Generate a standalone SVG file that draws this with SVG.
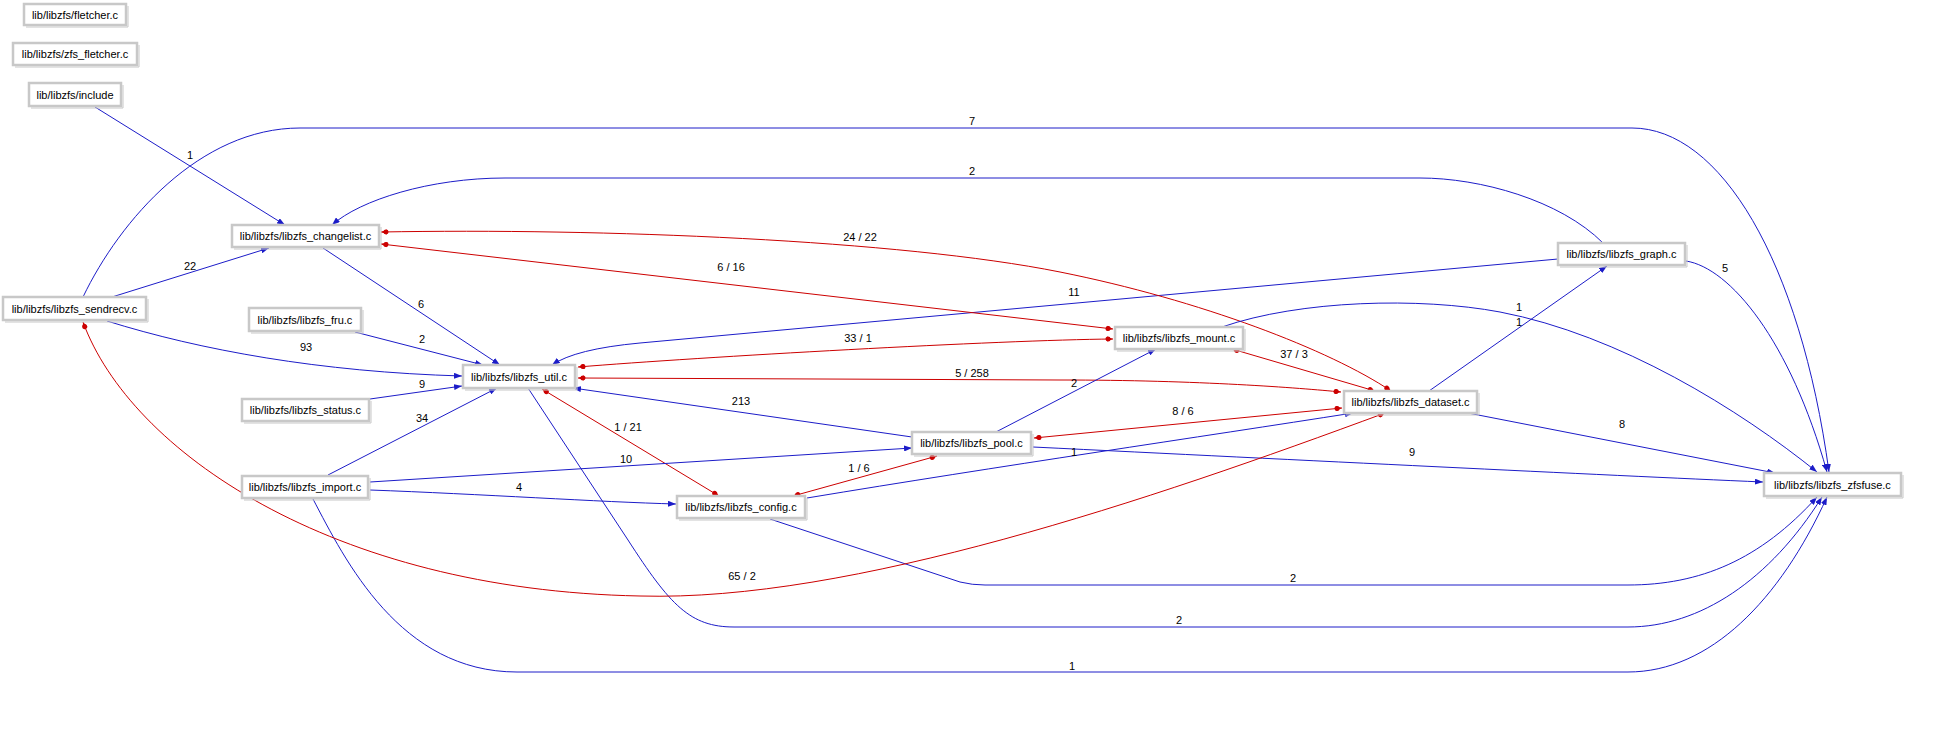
<svg xmlns="http://www.w3.org/2000/svg" width="1959" height="729" viewBox="0 0 1959 729">
<style>
.n rect{fill:#fff;stroke:#c8c8c8;stroke-width:2.5}
.n path{fill:none;stroke:#c8c8c8;stroke-width:1}
.n text{font-family:"Liberation Sans",Arial,sans-serif;font-size:11px;fill:#000;text-anchor:middle}
.e path{fill:none;stroke-width:1}
.b{stroke:#1c1cc8;marker-end:url(#ab)}
.r{stroke:#cc0000;marker-start:url(#ar);marker-end:url(#ar)}
.l text{font-family:"Liberation Sans",Arial,sans-serif;font-size:11px;fill:#000;text-anchor:middle}
</style>
<defs>
<marker id="ab" viewBox="0 0 8 6" refX="8" refY="3" markerWidth="8" markerHeight="6" orient="auto" markerUnits="userSpaceOnUse"><path d="M0,0 L8,3 L0,6 z" fill="#1c1cc8"/></marker>
<marker id="ar" viewBox="0 0 8 6" refX="8" refY="3" markerWidth="8" markerHeight="6" orient="auto-start-reverse" markerUnits="userSpaceOnUse"><path d="M2,0.5 L8,3 L2,5.5 z" fill="#cc0000"/><circle cx="3" cy="3" r="2.5" fill="#cc0000"/></marker>
</defs>
<rect width="1959" height="729" fill="#fff"/>
<g id="edges" class="e">
<path class="b" d="M95,107 L285,225"/>
<path class="b" d="M112,297 L269,248"/>
<path class="b" d="M83,297 C120,220 200,128 300,128 L1632,128 C1720,128 1800,260 1829,472"/>
<path class="b" d="M1603,243 C1560,200 1480,178 1420,178 L505,178 C430,178 360,200 332,225"/>
<path class="b" d="M323,248 L500,365"/>
<path class="b" d="M355,332 L483,365"/>
<path class="b" d="M107,321 C200,350 320,372 462,376"/>
<path class="b" d="M370,399 L462,386"/>
<path class="b" d="M328,475 L497,388"/>
<path class="b" d="M1558,259 L640,343 Q575,349 552,365"/>
<path class="r" d="M381,244 L1113,329"/>
<path class="r" d="M381,232 C600,228 900,240 1060,272 C1200,300 1330,350 1391,391"/>
<path class="r" d="M578,367 C700,357 1000,340 1113,339"/>
<path class="r" d="M578,378 L1060,380 C1200,380 1300,388 1341,392"/>
<path class="b" d="M912,437 L573,388"/>
<path class="r" d="M542,389 L719,496"/>
<path class="b" d="M528,388 L628,540 C670,605 690,627 734,627 L1628,627 C1700,627 1770,580 1822,497"/>
<path class="b" d="M770,519 L960,582 Q972,585 985,585 L1628,585 C1700,585 1760,560 1817,497"/>
<path class="b" d="M313,499 C345,560 400,672 517,672 L1628,672 C1710,672 1780,600 1827,497"/>
<path class="b" d="M370,482 L912,448"/>
<path class="b" d="M370,490 C480,494 600,502 676,504"/>
<path class="r" d="M793,496 L937,456"/>
<path class="b" d="M807,498 C1000,466 1200,437 1353,413"/>
<path class="b" d="M994,433 L1156,349"/>
<path class="r" d="M1034,438 L1342,408"/>
<path class="b" d="M1033,447 C1300,460 1600,475 1763,482"/>
<path class="b" d="M1468,413 L1775,473"/>
<path class="b" d="M1429,391 L1607,266"/>
<path class="b" d="M1222,327 C1300,300 1420,297 1500,312 C1620,335 1740,410 1817,472"/>
<path class="b" d="M1686,261 C1730,268 1790,340 1827,472"/>
<path class="r" d="M83,322 C130,450 330,590 640,596 C850,602 1150,500 1385,413"/>
<path class="r" d="M1232,349 L1375,391"/>
</g>
<g id="labels" class="l">
<text x="190" y="159">1</text>
<text x="190" y="270">22</text>
<text x="972" y="125">7</text>
<text x="972" y="175">2</text>
<text x="421" y="308">6</text>
<text x="422" y="343">2</text>
<text x="306" y="351">93</text>
<text x="422" y="388">9</text>
<text x="422" y="422">34</text>
<text x="1074" y="296">11</text>
<text x="731" y="271">6 / 16</text>
<text x="860" y="241">24 / 22</text>
<text x="858" y="342">33 / 1</text>
<text x="972" y="377">5 / 258</text>
<text x="741" y="405">213</text>
<text x="628" y="431">1 / 21</text>
<text x="1179" y="624">2</text>
<text x="1293" y="582">2</text>
<text x="1072" y="670">1</text>
<text x="626" y="463">10</text>
<text x="519" y="491">4</text>
<text x="859" y="472">1 / 6</text>
<text x="1074" y="456">1</text>
<text x="1074" y="387">2</text>
<text x="1183" y="415">8 / 6</text>
<text x="1412" y="456">9</text>
<text x="1622" y="428">8</text>
<text x="1519" y="326">1</text>
<text x="1519" y="311">1</text>
<text x="1725" y="272">5</text>
<text x="742" y="580">65 / 2</text>
<text x="1294" y="358">37 / 3</text>
</g>
<g id="n_fletcher" class="n"><rect x="24" y="4" width="102" height="21"/><path d="M128,6 V27 H26"/><text x="75" y="18.5">lib/libzfs/fletcher.c</text></g>
<g id="n_zfs_fletcher" class="n"><rect x="13" y="43" width="124" height="22"/><path d="M139,45 V67 H15"/><text x="75" y="58">lib/libzfs/zfs_fletcher.c</text></g>
<g id="n_include" class="n"><rect x="29" y="83" width="92" height="23"/><path d="M123,85 V108 H31"/><text x="75" y="98.5">lib/libzfs/include</text></g>
<g id="n_changelist" class="n"><rect x="232" y="225" width="147" height="22"/><path d="M381,227 V249 H234"/><text x="305.5" y="240">lib/libzfs/libzfs_changelist.c</text></g>
<g id="n_sendrecv" class="n"><rect x="3" y="297" width="143" height="23"/><path d="M148,299 V322 H5"/><text x="74.5" y="312.5">lib/libzfs/libzfs_sendrecv.c</text></g>
<g id="n_fru" class="n"><rect x="249" y="308" width="112" height="23"/><path d="M363,310 V333 H251"/><text x="305" y="323.5">lib/libzfs/libzfs_fru.c</text></g>
<g id="n_status" class="n"><rect x="242" y="399" width="127" height="22"/><path d="M371,401 V423 H244"/><text x="305.5" y="414">lib/libzfs/libzfs_status.c</text></g>
<g id="n_util" class="n"><rect x="463" y="365" width="112" height="23"/><path d="M577,367 V390 H465"/><text x="519" y="380.5">lib/libzfs/libzfs_util.c</text></g>
<g id="n_import" class="n"><rect x="242" y="476" width="126" height="22"/><path d="M370,478 V500 H244"/><text x="305" y="491">lib/libzfs/libzfs_import.c</text></g>
<g id="n_pool" class="n"><rect x="912" y="432" width="119" height="22"/><path d="M1033,434 V456 H914"/><text x="971.5" y="447">lib/libzfs/libzfs_pool.c</text></g>
<g id="n_config" class="n"><rect x="677" y="496" width="128" height="22"/><path d="M807,498 V520 H679"/><text x="741" y="511">lib/libzfs/libzfs_config.c</text></g>
<g id="n_mount" class="n"><rect x="1115" y="327" width="128" height="22"/><path d="M1245,329 V351 H1117"/><text x="1179" y="342">lib/libzfs/libzfs_mount.c</text></g>
<g id="n_dataset" class="n"><rect x="1344" y="391" width="133" height="22"/><path d="M1479,393 V415 H1346"/><text x="1410.5" y="406">lib/libzfs/libzfs_dataset.c</text></g>
<g id="n_graph" class="n"><rect x="1558" y="243" width="127" height="22"/><path d="M1687,245 V267 H1560"/><text x="1621.5" y="258">lib/libzfs/libzfs_graph.c</text></g>
<g id="n_zfsfuse" class="n"><rect x="1764" y="473" width="137" height="23"/><path d="M1903,475 V498 H1766"/><text x="1832.5" y="488.5">lib/libzfs/libzfs_zfsfuse.c</text></g>
</svg>
